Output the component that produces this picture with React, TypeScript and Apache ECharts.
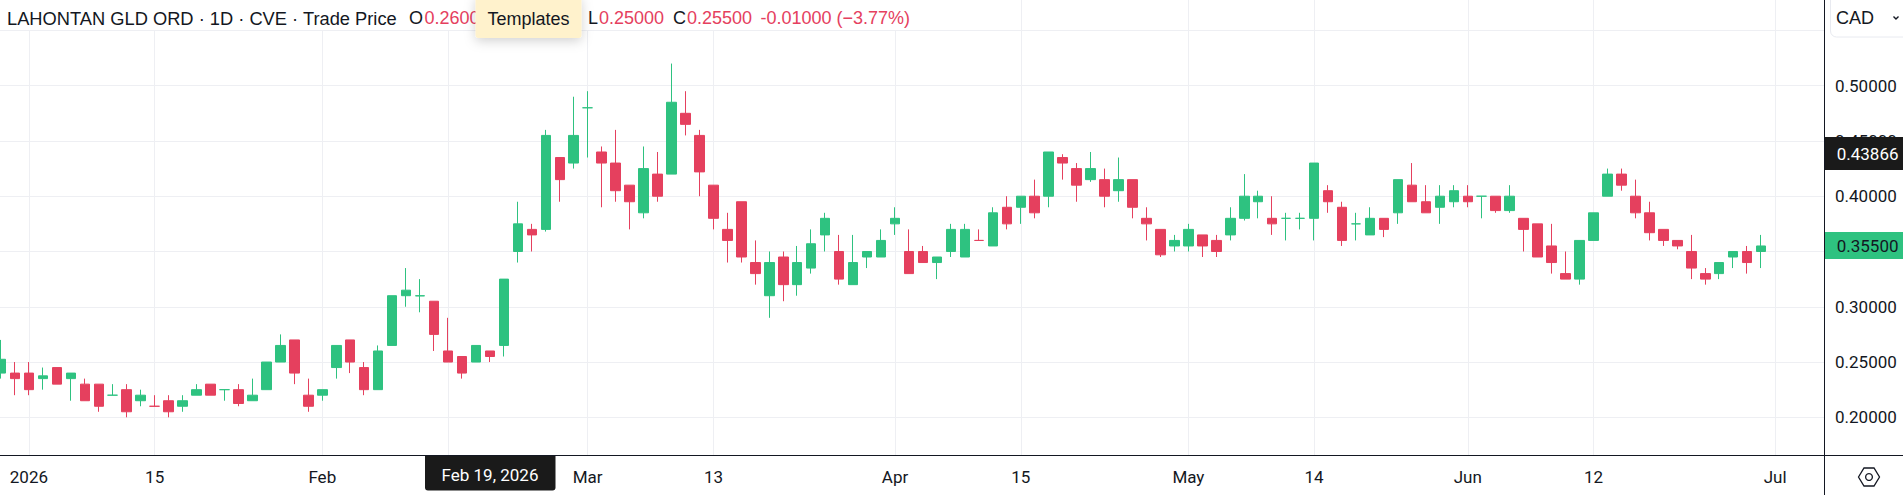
import React, { useEffect, useRef } from "react";
import * as echarts from "echarts";

const categories = [
  "2025-12-30","2025-12-31","2026-01-02","2026-01-05","2026-01-06","2026-01-07","2026-01-08","2026-01-09","2026-01-12","2026-01-13","2026-01-14","2026-01-15","2026-01-16","2026-01-19","2026-01-20","2026-01-21","2026-01-22","2026-01-23","2026-01-26","2026-01-27","2026-01-28","2026-01-29","2026-01-30",
  "2026-02-02","2026-02-03","2026-02-04","2026-02-05","2026-02-06","2026-02-09","2026-02-10","2026-02-11","2026-02-12","2026-02-13","2026-02-17","2026-02-18","2026-02-19","2026-02-20","2026-02-23","2026-02-24","2026-02-25","2026-02-26","2026-02-27",
  "2026-03-02","2026-03-03","2026-03-04","2026-03-05","2026-03-06","2026-03-09","2026-03-10","2026-03-11","2026-03-12","2026-03-13","2026-03-16","2026-03-17","2026-03-18","2026-03-19","2026-03-20","2026-03-23","2026-03-24","2026-03-25","2026-03-26","2026-03-27","2026-03-30","2026-03-31",
  "2026-04-01","2026-04-02","2026-04-06","2026-04-07","2026-04-08","2026-04-09","2026-04-10","2026-04-13","2026-04-14","2026-04-15","2026-04-16","2026-04-17","2026-04-20","2026-04-21","2026-04-22","2026-04-23","2026-04-24","2026-04-27","2026-04-28","2026-04-29","2026-04-30",
  "2026-05-01","2026-05-04","2026-05-05","2026-05-06","2026-05-07","2026-05-08","2026-05-11","2026-05-12","2026-05-13","2026-05-14","2026-05-15","2026-05-19","2026-05-20","2026-05-21","2026-05-22","2026-05-25","2026-05-26","2026-05-27","2026-05-28","2026-05-29",
  "2026-06-01","2026-06-02","2026-06-03","2026-06-04","2026-06-05","2026-06-08","2026-06-09","2026-06-10","2026-06-11","2026-06-12","2026-06-15","2026-06-16","2026-06-17","2026-06-18","2026-06-19","2026-06-22","2026-06-23","2026-06-24","2026-06-25","2026-06-26","2026-06-29","2026-06-30",
  "2026-07-01","2026-07-02","2026-07-03","2026-07-06",
];

const opens = [
  0.24,0.24,0.24,0.235,0.245,0.235,0.23,0.23,0.22,0.225,0.215,0.21,0.215,0.21,0.22,0.23,0.225,0.225,0.215,0.225,0.25,0.27,0.22,
  0.22,0.245,0.27,0.245,0.225,0.265,0.31,0.3098,0.305,0.26,0.255,0.25,0.26,0.265,0.35,0.37,0.37,0.435,0.43,
  0.48,0.44,0.43,0.41,0.385,0.42,0.42,0.475,0.455,0.41,0.37,0.395,0.34,0.31,0.345,0.32,0.335,0.365,0.35,0.32,0.345,0.345,
  0.375,0.35,0.35,0.34,0.35,0.345,0.36,0.355,0.39,0.39,0.40,0.40,0.435,0.425,0.415,0.415,0.405,0.415,0.38,0.37,0.355,
  0.355,0.365,0.36,0.365,0.38,0.395,0.38,0.38,0.38,0.38,0.405,0.39,0.375,0.365,0.38,0.385,0.41,0.395,0.39,0.395,
  0.40,0.40,0.40,0.387,0.38,0.375,0.355,0.33,0.325,0.36,0.40,0.42,0.40,0.385,0.37,0.36,0.35,0.33,0.33,0.345,0.35,0.35,
];
const closes = [
  0.2525,0.235,0.225,0.2375,0.23,0.24,0.215,0.21,0.22,0.205,0.22,0.21,0.205,0.215,0.225,0.22,0.225,0.2125,0.22,0.25,0.265,0.24,0.21,
  0.225,0.265,0.25,0.225,0.26,0.31,0.315,0.31,0.275,0.25,0.24,0.265,0.255,0.325,0.375,0.365,0.455,0.415,0.455,
  0.48,0.43,0.405,0.395,0.425,0.40,0.485,0.465,0.422,0.38,0.36,0.345,0.33,0.34,0.32,0.34,0.357,0.38,0.325,0.34,0.35,0.36,
  0.38,0.33,0.34,0.345,0.37,0.37,0.36,0.385,0.375,0.40,0.385,0.44,0.43,0.41,0.425,0.40,0.415,0.39,0.375,0.347,0.36,
  0.37,0.355,0.35,0.38,0.40,0.40,0.375,0.38,0.38,0.43,0.395,0.36,0.375,0.38,0.37,0.415,0.395,0.385,0.40,0.405,
  0.395,0.40,0.387,0.40,0.37,0.345,0.34,0.325,0.36,0.385,0.42,0.41,0.385,0.367,0.36,0.355,0.335,0.325,0.34,0.35,0.34,0.355,
];
const lows = [
  0.235,0.22,0.22,0.225,0.23,0.215,0.215,0.205,0.22,0.20,0.21,0.21,0.20,0.205,0.22,0.22,0.215,0.21,0.215,0.225,0.25,0.23,0.205,
  0.215,0.235,0.24,0.22,0.225,0.265,0.30,0.295,0.26,0.25,0.235,0.25,0.25,0.255,0.34,0.35,0.368,0.395,0.425,
  0.435,0.39,0.395,0.37,0.38,0.395,0.42,0.455,0.40,0.37,0.34,0.34,0.32,0.29,0.305,0.31,0.33,0.35,0.32,0.32,0.335,0.345,
  0.365,0.33,0.34,0.325,0.345,0.345,0.36,0.355,0.37,0.375,0.38,0.39,0.415,0.395,0.413,0.39,0.395,0.38,0.36,0.345,0.35,
  0.35,0.345,0.345,0.36,0.378,0.38,0.365,0.36,0.37,0.36,0.385,0.355,0.36,0.365,0.363,0.375,0.395,0.385,0.375,0.39,
  0.39,0.38,0.385,0.385,0.35,0.345,0.33,0.325,0.32,0.36,0.40,0.405,0.38,0.36,0.355,0.352,0.325,0.32,0.325,0.335,0.33,0.335,
];
const highs = [
  0.27,0.25,0.25,0.245,0.245,0.24,0.235,0.23,0.23,0.23,0.225,0.22,0.22,0.22,0.23,0.23,0.225,0.23,0.235,0.25,0.275,0.27,0.235,
  0.225,0.265,0.27,0.25,0.265,0.31,0.335,0.325,0.305,0.29,0.255,0.265,0.26,0.325,0.395,0.375,0.46,0.435,0.49,
  0.495,0.445,0.46,0.41,0.445,0.44,0.52,0.495,0.46,0.41,0.385,0.395,0.36,0.35,0.35,0.355,0.37,0.385,0.365,0.365,0.35,0.37,
  0.39,0.37,0.355,0.345,0.375,0.375,0.37,0.39,0.40,0.40,0.415,0.44,0.438,0.43,0.44,0.425,0.435,0.415,0.39,0.37,0.365,
  0.375,0.365,0.365,0.39,0.42,0.405,0.40,0.385,0.385,0.43,0.41,0.395,0.385,0.39,0.38,0.415,0.43,0.41,0.41,0.41,
  0.41,0.40,0.40,0.41,0.38,0.375,0.375,0.35,0.36,0.385,0.425,0.425,0.415,0.395,0.37,0.36,0.365,0.335,0.34,0.35,0.355,0.365,
];

const priceTicks = [0.2, 0.25, 0.3, 0.35, 0.4, 0.45, 0.5, 0.55];
const coveredPriceLabels = ["0.35000", "0.55000"];
const dateTickLabels: Record<number, string> = {
  2: "2026", 11: "15", 23: "Feb", 32: "", 42: "Mar", 51: "13", 64: "Apr", 73: "15", 85: "May", 94: "14", 105: "Jun", 114: "12", 127: "Jul",
};

const UP = "#2EC280";
const DOWN = "#E5405E";
const INK = "#131722";
const GRID = "#EEEFF3";
const SANS = "'Liberation Sans', Arial, sans-serif";
const AXISF = "Roboto, sans-serif";
const BLEED = 6;

function txt(text: string, x: number, y: number, fill: string, font: string, size: number, extra: any = {}) {
  return {
    type: "text", z: 101, x, y,
    style: { text, fill, font: `${size}px ${font}`, verticalAlign: "middle", ...extra },
  };
}

export default function App() {
  const ref = useRef<HTMLDivElement>(null);
  useEffect(() => {
    document.body.style.margin = "0";
    document.body.style.overflow = "hidden";
    const chart = echarts.init(ref.current!, undefined, { renderer: "svg" });
    const tickIdx = (i: number) => dateTickLabels[i] !== undefined;
    const candleData = opens.map((o, i) => [o, closes[i], lows[i], highs[i]]);
    chart.setOption({
      animation: false,
      backgroundColor: "#ffffff",
      grid: { left: 0, right: 79, top: 0, height: 455, containLabel: false },
      xAxis: {
        type: "category",
        data: categories,
        boundaryGap: true,
        axisLine: { show: false },
        axisTick: { show: false, alignWithLabel: true, interval: (i: number) => tickIdx(i) },
        axisLabel: {
          interval: (i: number) => tickIdx(i),
          formatter: (_: string, i: number) => dateTickLabels[i] ?? "",
          color: INK, fontFamily: AXISF, fontSize: 17, margin: 13, hideOverlap: false,
        },
        splitLine: {
          show: true,
          alignWithLabel: true,
          interval: (i: number) => tickIdx(i),
          lineStyle: { color: GRID, width: 1 },
        },
      },
      yAxis: {
        type: "value",
        position: "right",
        min: 0.1659,
        max: 0.5775,
        axisLine: { show: false },
        axisTick: { show: false, customValues: priceTicks },
        axisLabel: {
          customValues: priceTicks,
          formatter: (v: number) => (coveredPriceLabels.includes(v.toFixed(5)) ? "" : v.toFixed(5)),
          color: INK, fontFamily: AXISF, fontSize: 17, margin: 11,
        },
        splitLine: { show: true, lineStyle: { color: GRID, width: 1 } },
      },
      series: [
        {
          type: "candlestick",
          data: candleData,
          barWidth: 10,
          itemStyle: { color: UP, color0: DOWN, borderColor: UP, borderColor0: DOWN, borderWidth: 1 },
        },
      ],
      graphic: [
        {
          type: "group",
          x: BLEED,
          children: [
            { type: "rect", z: 100, shape: { x: 0, y: 0, width: 913, height: 30 }, style: { fill: "#fff" } },
            txt("LAHONTAN GLD ORD · 1D · CVE · Trade Price", 7, 18, INK, SANS, 18.3),
            txt("O", 409, 18, INK, SANS, 18),
            txt("0.26000", 424.5, 18, DOWN, SANS, 18),
            txt("L", 588, 18, INK, SANS, 18),
            txt("0.25000", 599, 18, DOWN, SANS, 18),
            txt("C", 673, 18, INK, SANS, 18),
            txt("0.25500", 687, 18, DOWN, SANS, 18),
            txt("-0.01000 (−3.77%)", 760.5, 18, DOWN, SANS, 18),
            {
              type: "rect", z: 102, shape: { x: 475.5, y: -4, width: 106, height: 42, r: 3 },
              style: { fill: "#FFF2CC", shadowBlur: 12, shadowColor: "rgba(0,0,0,0.18)", shadowOffsetY: 3 },
            },
            { ...txt("Templates", 528.5, 19, INK, SANS, 18, { align: "center" }), z: 103 },
            { type: "rect", z: 101, shape: { x: 1830.5, y: -6, width: 90, height: 43, r: 6 }, style: { fill: "#fff", stroke: "#E8EAF0", lineWidth: 1 } },
            { ...txt("CAD", 1836, 18, INK, SANS, 18), z: 102 },
            { type: "polyline", z: 102, shape: { points: [[1893.5, 16.5], [1896, 19], [1898.5, 16.5]] }, style: { stroke: INK, lineWidth: 1.4, fill: "none" } },
            { type: "rect", z: 101, shape: { x: 1824, y: 137, width: 79, height: 33 }, style: { fill: "#1A1A1A" } },
            { ...txt("0.43866", 1898.5, 153.5, "#ffffff", AXISF, 17, { align: "right" }), z: 102 },
            { type: "rect", z: 101, shape: { x: 1824, y: 232, width: 79, height: 27 }, style: { fill: UP } },
            { ...txt("0.35500", 1898.5, 245.5, INK, AXISF, 17, { align: "right" }), z: 102 },
            { type: "line", z: 103, shape: { x1: 1824.5, y1: 0, x2: 1824.5, y2: 495 }, style: { stroke: INK, lineWidth: 1 } },
            { type: "line", z: 103, shape: { x1: 0, y1: 455.5, x2: 1903, y2: 455.5 }, style: { stroke: INK, lineWidth: 1 } },
            {
              type: "polygon", z: 103,
              shape: { points: [[1858.5, 477], [1864, 468], [1874, 468], [1879.5, 477], [1874, 486], [1864, 486]] },
              style: { fill: "#fff", stroke: INK, lineWidth: 1.3 },
            },
            { type: "circle", z: 104, shape: { cx: 1869, cy: 477, r: 3.4 }, style: { fill: "#fff", stroke: INK, lineWidth: 1.3 } },
            {
              type: "rect", z: 102, shape: { x: 425, y: 455.5, width: 130.5, height: 35, r: [0, 0, 3, 3] },
              style: { fill: "#1A1A1A" },
            },
            { ...txt("Feb 19, 2026", 490, 475, "#ffffff", AXISF, 17, { align: "center" }), z: 103 },
          ],
        },
      ],
    });
    return () => chart.dispose();
  }, []);
  return <div ref={ref} style={{ position: "absolute", left: -BLEED, top: 0, width: 1903 + BLEED, height: 495 }} />;
}
